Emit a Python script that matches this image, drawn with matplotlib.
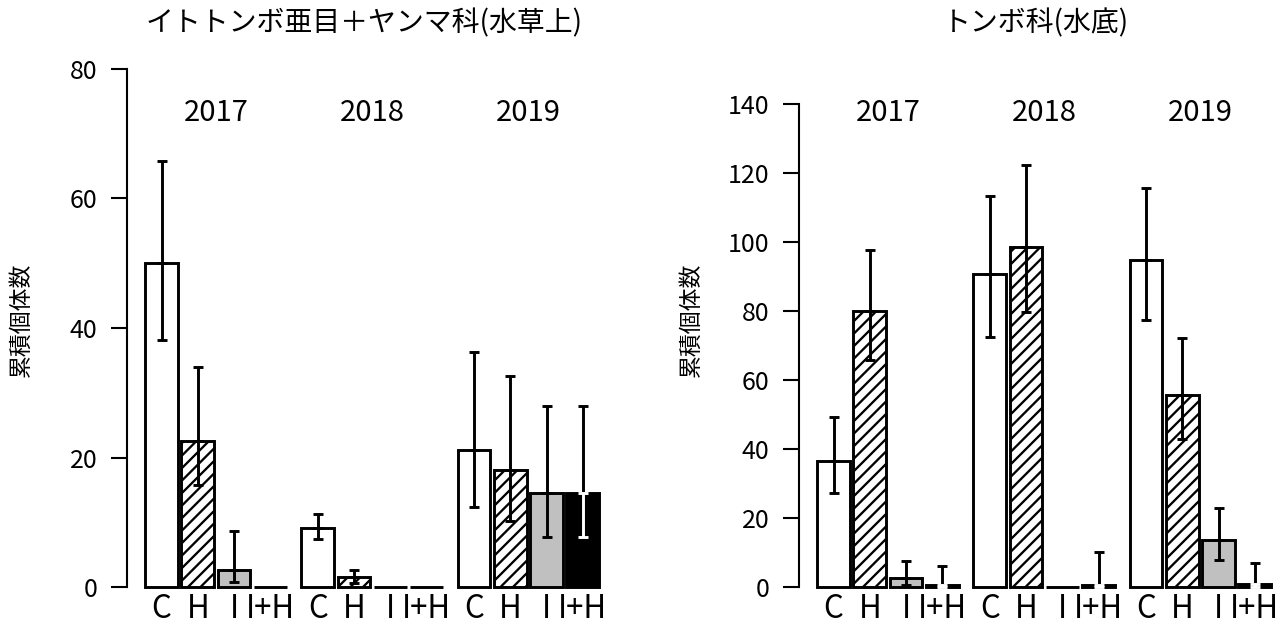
import matplotlib
matplotlib.use("Agg")
import matplotlib.pyplot as plt
import numpy as np

plt.rcParams['font.family'] = ['Noto Sans CJK JP', 'DejaVu Sans']
plt.rcParams['hatch.linewidth'] = 1.1

years = ["2017", "2018", "2019"]
treatments = ["C", "H", "I", "I+H"]

# left panel: damselflies + aeshnids (on plants)
left_title = "イトトンボ亜目＋ヤンマ科(水草上)"
left_mean = [[50.0, 22.6, 2.7, 0.0],
             [9.1, 1.6, 0.0, 0.0],
             [21.1, 18.1, 14.5, 14.5]]
left_lo = [[38.1, 15.8, 0.8, np.nan],
           [7.4, 0.6, np.nan, np.nan],
           [12.4, 10.2, 7.7, 7.7]]
left_hi = [[65.8, 33.9, 8.6, np.nan],
           [11.3, 2.6, np.nan, np.nan],
           [36.3, 32.6, 28.0, 28.0]]

# right panel: libellulids (bottom)
right_title = "トンボ科(水底)"
right_mean = [[36.6, 80.0, 2.6, 0.6],
              [90.6, 98.6, 0.0, 0.6],
              [94.7, 55.6, 13.6, 1.0]]
right_lo = [[27.2, 65.8, 0.7, 0.0],
            [72.5, 79.5, np.nan, 0.0],
            [77.4, 43.0, 7.8, 0.0]]
right_hi = [[49.1, 97.6, 7.5, 6.0],
            [113.3, 122.2, np.nan, 10.2],
            [115.6, 72.1, 23.0, 7.0]]

ylabel = "累積個体数"

fills = ["white", "white", "#c0c0c0", "black"]
hatches = [None, "////", None, None]


def panel(ax, title, mean, lo, hi, ymax, ytop):
    gap = 4.3
    xs_all, labs = [], []
    for g in range(len(years)):
        xs = g * gap + np.arange(len(treatments))
        for j in range(len(treatments)):
            ax.bar(xs[j], mean[g][j], width=0.9, color=fills[j], hatch=hatches[j],
                   edgecolor="black", linewidth=1.4, clip_on=False, zorder=2)
            if np.isnan(lo[g][j]):
                continue
            low_col = "white" if fills[j] == "black" else "black"
            # upper half of the error bar
            ax.errorbar(xs[j], mean[g][j], yerr=[[0], [hi[g][j] - mean[g][j]]],
                        fmt="none", ecolor="black", elinewidth=1.4, capsize=2.5,
                        capthick=1.4, zorder=3, clip_on=False)
            ax.errorbar(xs[j], mean[g][j], yerr=[[mean[g][j] - lo[g][j]], [0]],
                        fmt="none", ecolor=low_col, elinewidth=1.4, capsize=2.5,
                        capthick=1.4, zorder=3, clip_on=False)
        ax.text(xs.mean(), 0.915, years[g], transform=ax.get_xaxis_transform(),
                ha="center", va="center", fontsize=14)
        xs_all += list(xs)
        labs += treatments

    ax.set_xlim(-0.95, 12.1)
    ax.set_ylim(0, ymax)
    ax.set_yticks(np.arange(0, ytop + 1, 20))
    ax.set_xticks(xs_all)
    ax.set_xticklabels(labs, fontsize=15)
    ax.tick_params(axis="x", length=0, pad=3)
    ax.tick_params(axis="y", length=7.7, width=1.0, labelsize=12, pad=6.5)
    for s in ["top", "right", "bottom"]:
        ax.spines[s].set_visible(False)
    ax.spines["left"].set_linewidth(1.0)
    ax.spines["left"].set_bounds(0, ytop)
    ax.set_ylabel(ylabel, fontsize=11)
    ax.text(0.5, 1.088, title, transform=ax.transAxes, ha="center", va="center",
            fontsize=13.4)


fig = plt.figure(figsize=(1282 / 150, 630 / 150), dpi=150)
ax1 = fig.add_axes([127 / 1282, 43 / 630, 474 / 1282, 518 / 630])
ax2 = fig.add_axes([799 / 1282, 43 / 630, 474 / 1282, 518 / 630])

panel(ax1, left_title, left_mean, left_lo, left_hi, 80, 80)
panel(ax2, right_title, right_mean, right_lo, right_hi, 150, 140)

ax1.yaxis.set_label_coords(-0.198, 0.515)
ax2.yaxis.set_label_coords(-0.2025, 0.515)

fig.savefig("out.png", dpi=150)
